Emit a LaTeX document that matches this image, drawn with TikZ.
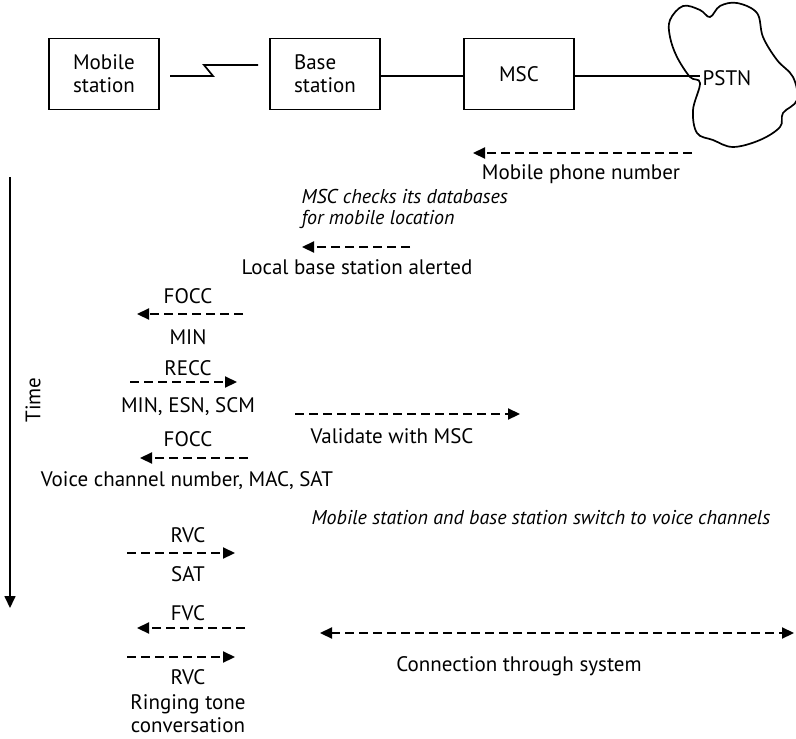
\documentclass[tikz,border=0pt]{standalone}
\usepackage{fontspec}
\setmainfont{PT Sans}
\usetikzlibrary{arrows.meta, positioning, calc}

\begin{document}
\begin{tikzpicture}[x=1pt, y=-1pt, >={Triangle[length=12pt,width=11pt]},
  every node/.style={font=\fontsize{21}{23}\selectfont},
  unit/.style={draw, line width=1.7pt, minimum width=110pt, minimum height=71pt, align=left},
  wire/.style={line width=1.7pt},
  msg/.style={->, line width=2.2pt, dash pattern=on 9pt off 5pt},
  both/.style={<->, line width=2.2pt, dash pattern=on 9pt off 5pt},
  note/.style={font=\fontsize{20}{21}\selectfont\itshape, align=left}]
  \useasboundingbox (0,0) rectangle (796,739);

  % Network elements
  \node[unit] (ms)  at (104,74) {Mobile\\station};
  \node[unit] (bs)  at (325,74) {Base\\station};
  \node[unit] (msc) at (519,74) {MSC};
  \draw[line width=1.7pt] plot[smooth cycle, tension=0.6] coordinates {
    (670,20) (683,6) (700,10) (710,17) (720,6) (737,3) (757,13) (763,37) (777,60)
    (793,77) (797,100) (783,113) (780,127) (760,140) (733,147) (713,140)
    (697,133) (693,110) (700,83) (690,77) (677,57) (670,37)};
  \node (pstn) at (727,78) {PSTN};
  \coordinate (pstnin) at (700,76);

  % Links
  \coordinate (r0) at (170,76);
  \coordinate (r3) at (258,65);
  \draw[wire] (r0) -- (213,76) -- (204,65) -- (r3);
  \draw[wire] (bs.east |- 0,76) -- (msc.west |- 0,76);
  \draw[wire] (msc.east |- 0,76) -- (pstnin);

  % Time axis
  \coordinate (t0) at (10,177);
  \coordinate (t1) at (10,608);
  \draw[->, line width=1.7pt] (t0) -- (t1);
  \node[rotate=90] (time) at (33,400) {Time};

  % Call setup
  \coordinate (pn1) at (692,153);
  \coordinate (pn0) at (473,153);
  \draw[msg] (pn1) -- (pn0);
  \node (pnum) at (581,174) {Mobile phone number};
  \node[note, anchor=west] (check) at (298,209) {MSC checks its databases\\for mobile location};

  \coordinate (lb1) at (410,247);
  \coordinate (lb0) at (302,247);
  \draw[msg] (lb1) -- (lb0);
  \node (local) at (357,267) {Local base station alerted};

  \node (focc1) at (188,296) {FOCC};
  \coordinate (f1a) at (243,314);
  \coordinate (f1b) at (137,314);
  \draw[msg] (f1a) -- (f1b);
  \node (min) at (188,337) {MIN};

  \node (recc) at (188,368) {RECC};
  \coordinate (r1a) at (130,382);
  \coordinate (r1b) at (237,382);
  \draw[msg] (r1a) -- (r1b);
  \node (mes) at (188,407) {MIN, ESN, SCM};

  \coordinate (v0) at (295,414);
  \coordinate (v1) at (520,414);
  \draw[msg] (v0) -- (v1);
  \node (valid) at (392,436) {Validate with MSC};

  \node (focc2) at (188,439) {FOCC};
  \coordinate (f2a) at (248,458);
  \coordinate (f2b) at (140,458);
  \draw[msg] (f2a) -- (f2b);
  \node (vcn) at (187,481) {Voice channel number, MAC, SAT};

  \node[note] (switch) at (541,518) {Mobile station and base station switch to voice channels};

  % Voice channels
  \node (rvc1) at (188,535) {RVC};
  \coordinate (v1a) at (127,553);
  \coordinate (v1b) at (235,553);
  \draw[msg] (v1a) -- (v1b);
  \node (sat) at (188,574) {SAT};

  \node (fvc) at (188,613) {FVC};
  \coordinate (fva) at (245,628);
  \coordinate (fvb) at (137,628);
  \draw[msg] (fva) -- (fvb);

  \coordinate (c0) at (320,633);
  \coordinate (c1) at (794,633);
  \draw[both] (c0) -- (c1);
  \node (conn) at (519,666) {Connection through system};

  \coordinate (v2a) at (127,657);
  \coordinate (v2b) at (235,657);
  \draw[msg] (v2a) -- (v2b);
  \node (rvc2) at (188,677) {RVC};
  \node[align=center, inner sep=0pt] (ring) at (188,714) {Ringing tone\\conversation};
\end{tikzpicture}
\end{document}
